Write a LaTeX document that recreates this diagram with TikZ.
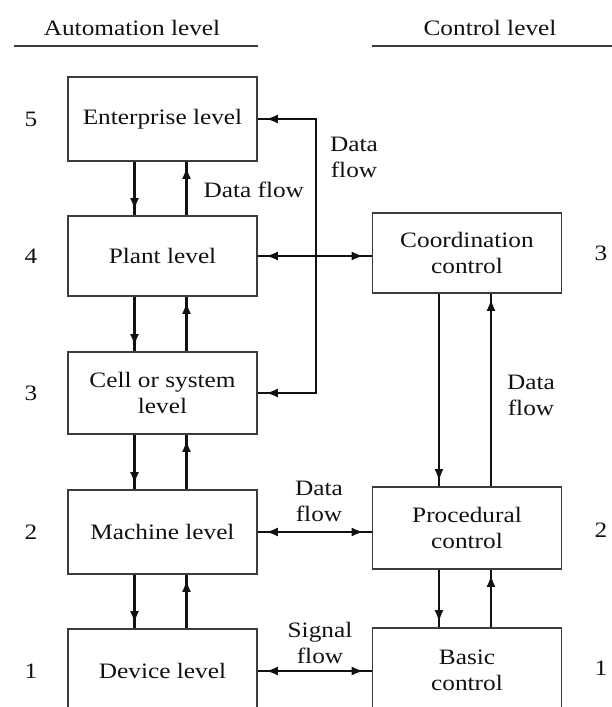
\documentclass[tikz,border=0pt]{standalone}
\usepackage{fontspec}
\setmainfont{Liberation Serif}[FakeStretch=1.15]
\usetikzlibrary{arrows.meta,decorations.markings,calc}
\definecolor{ink}{HTML}{111111}
\definecolor{frame}{HTML}{3C3C3C}

\begin{document}
\begin{tikzpicture}[x=1pt,y=-1pt,>={Latex[length=12pt,width=9pt]},
  lvl/.style={draw=frame,line width=1.7pt,minimum width=189pt,align=center,
    text=ink,font=\fontsize{22}{26}\selectfont},
  txt/.style={text=ink,align=center,font=\fontsize{22}{26}\selectfont},
  fwd/.style={ink,line width=2.7pt,postaction={decorate},
    decoration={markings,mark=at position -5pt with {\arrow{>}}}},
  both/.style={ink,line width=2.7pt,postaction={decorate},
    decoration={markings,mark=at position 8pt with {\arrowreversed{>}},
      mark=at position -8pt with {\arrow{>}}}}]
  \useasboundingbox (0,0) rectangle (612,707);
  \clip (0,0) rectangle (612,707);

  \node[txt] (autohead) at (132,28) {Automation level};
  \node[txt] (ctrlhead) at (490,28) {Control level};
  \draw[frame,line width=1.8pt] (14,46) -- (258,46);
  \draw[frame,line width=1.8pt] (372,46) -- (612,46);

  \node[lvl,minimum height=84pt] (ent) at (162.5,119) {Enterprise level};
  \node[lvl,minimum height=80pt] (plant) at (162.5,256) {Plant level};
  \node[lvl,minimum height=82pt] (cell) at (162.5,393) {Cell or system\\level};
  \node[lvl,minimum height=84pt] (mach) at (162.5,532) {Machine level};
  \node[lvl,minimum height=84pt] (dev) at (162.5,671) {Device level};

  \node[lvl,minimum height=80pt] (coord) at (467,253) {Coordination\\control};
  \node[lvl,minimum height=82pt] (proc) at (467,528) {Procedural\\control};
  \node[lvl,minimum height=84pt] (basic) at (467,670) {Basic\\control};

  \foreach \n/\y in {5/119,4/256,3/393,2/532,1/671}
    \node[txt] (auto\n) at (31,\y) {\n};
  \foreach \n/\y in {3/253,2/530,1/668}
    \node[txt] (ctrl\n) at (601,\y) {\n};

  \foreach \a/\b in {ent/plant,plant/cell,cell/mach,mach/dev,coord/proc,proc/basic} {
    \draw[fwd] ([xshift=-28pt]\a.south) -- ([xshift=-28pt]\b.north);
    \draw[fwd] ([xshift=24pt]\b.north) -- ([xshift=24pt]\a.south);
  }

  \coordinate (bus) at (316,0);
  \draw[both,line width=2.9pt] (ent.east) -- (bus |- ent.east) -- (bus |- cell.east) -- (cell.east);
  \draw[both] (plant.east) -- (plant.east -| coord.west);
  \draw[both] (mach.east) -- (mach.east -| proc.west);
  \draw[both] (dev.east) -- (dev.east -| basic.west);

  \node[txt,anchor=west] (entflow) at (200,190) {Data flow};
  \node[txt] (busflow) at (354,157) {Data\\flow};
  \node[txt] (ctrlflow) at (531,395) {Data\\flow};
  \node[txt] (midflow) at (319,501) {Data\\flow};
  \node[txt] (sigflow) at (320,643) {Signal\\flow};
\end{tikzpicture}
\end{document}
